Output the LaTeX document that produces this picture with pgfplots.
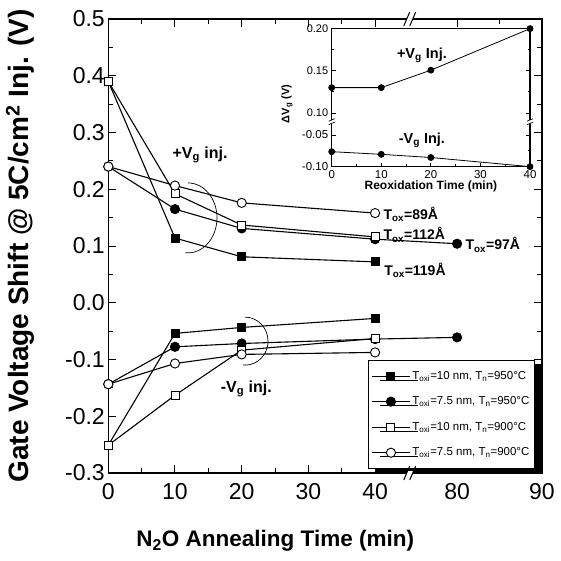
\documentclass[border=0pt]{standalone}
\usepackage{fontspec}
\setmainfont{Liberation Sans}
\usepackage{pgfplots}
\pgfplotsset{compat=1.18}
\usetikzlibrary{shadows}

\newcommand\fs[1]{\fontsize{#1}{#1}\selectfont}

% broken x axis: 0..40 linear, then 80 -> 52.3 and 90 -> 65 on the drawn scale
\pgfplotsset{
  ser/.style={black, line width=1.1pt},
  fsq/.style={ser, mark=square*, mark size=4pt, mark options={fill=black, line width=0.9pt}},
  fci/.style={ser, mark=*, mark size=4.6pt, mark options={fill=black, line width=0.9pt}},
  osq/.style={ser, mark=square*, mark size=4pt, mark options={fill=white, line width=0.9pt}},
  oci/.style={ser, mark=*, mark size=4.6pt, mark options={fill=white, line width=0.9pt}},
}

\begin{document}
\begin{tikzpicture}
\begin{axis}[
  name=main,
  at={(0pt,0pt)}, anchor=south west,
  scale only axis, width=433.5pt, height=454pt,
  xmin=0, xmax=65, ymin=-0.3, ymax=0.5,
  xtick={0,10,20,30,40,52.3,65},
  xticklabels={0,10,20,30,40,80,90},
  minor xtick={5,15,25,35,58.6},
  ytick={-0.3,-0.2,-0.1,0,0.1,0.2,0.3,0.4,0.5},
  yticklabels={-0.3,-0.2,-0.1,0.0,0.1,0.2,0.3,0.4,0.5},
  minor ytick={-0.25,-0.15,-0.05,0.05,0.15,0.25,0.35,0.45},
  tick label style={font=\fs{23}},
  xticklabel style={yshift=-7pt},
  major tick length=8pt, minor tick length=5pt,
  axis line style={line width=1.5pt},
  tick style={line width=1pt, black},
  xlabel={N\textsubscript{2}O Annealing Time (min)},
  xlabel style={font=\fs{22.5}\bfseries, at={(axis description cs:0.385,-0.15)}, anchor=center},
  ylabel={Gate Voltage Shift @ 5C/cm\textsuperscript{2} Inj. (V)},
  ylabel style={font=\fs{28}\bfseries, at={(axis description cs:-0.203,0.5)}, anchor=center},
  clip=false,
  legend cell align=left,
  legend style={at={(0.599,0.249)}, anchor=north west, font=\fs{11.5},
    draw=black, line width=0.8pt, fill=white, row sep=12pt,
    inner xsep=3pt, inner ysep=9pt,
    drop shadow={shadow xshift=8pt, shadow yshift=-4pt, fill=black, opacity=1}},
  legend image code/.code={\draw[mark repeat=2,mark phase=2,#1] plot coordinates {(0pt,0pt) (19pt,0pt) (38pt,0pt)};},
]
% +Vg injection
\addplot[fsq] coordinates {(0,0.39) (10,0.114) (20,0.081) (40,0.072)};
\addlegendentry{T\textsubscript{oxi}=10 nm, T\textsubscript{n}=950°C}
\addplot[fci] coordinates {(0,0.24) (10,0.165) (20,0.131) (40,0.112) (52.3,0.104)};
\addlegendentry{T\textsubscript{oxi}=7.5 nm, T\textsubscript{n}=950°C}
\addplot[osq] coordinates {(0,0.39) (10,0.192) (20,0.137) (40,0.116)};
\addlegendentry{T\textsubscript{oxi}=10 nm, T\textsubscript{n}=900°C}
\addplot[oci] coordinates {(0,0.24) (10,0.2065) (20,0.176) (40,0.158)};
\addlegendentry{T\textsubscript{oxi}=7.5 nm, T\textsubscript{n}=900°C}
% -Vg injection
\addplot[fsq, forget plot] coordinates {(0,-0.251) (10,-0.054) (20,-0.0435) (40,-0.0276)};
\addplot[fci, forget plot] coordinates {(0,-0.1435) (10,-0.0776) (20,-0.0718) (40,-0.064) (52.3,-0.061)};
\addplot[osq, forget plot] coordinates {(0,-0.251) (10,-0.163) (20,-0.0835) (40,-0.063)};
\addplot[oci, forget plot] coordinates {(0,-0.1435) (10,-0.107) (20,-0.091) (40,-0.0875)};

\node[font=\fs{16}\bfseries] at (axis cs:13.75,0.2606) {+V\textsubscript{g} inj.};
\node[font=\fs{16}\bfseries] at (axis cs:20.7,-0.152) {-V\textsubscript{g} inj.};
\draw[line width=0.7pt] ([yshift=35pt]axis cs:11.95,0.1495) arc[start angle=90, end angle=-95, x radius=29pt, y radius=35pt];
\draw[line width=0.7pt] ([yshift=24pt]axis cs:20.5,-0.0676) arc[start angle=90, end angle=-95, x radius=23pt, y radius=24pt];

\node[font=\fs{14}\bfseries, anchor=west, inner sep=1pt] at (axis cs:41.1,0.155) {T\textsubscript{ox}=89Å};
\node[font=\fs{14}\bfseries, anchor=west, inner sep=1pt] at (axis cs:41.1,0.1195) {T\textsubscript{ox}=112Å};
\node[font=\fs{14}\bfseries, anchor=west, inner sep=1pt] at (axis cs:53.4,0.102) {T\textsubscript{ox}=97Å};
\node[font=\fs{14}\bfseries, anchor=west, inner sep=1pt] at (axis cs:41.2,0.0577) {T\textsubscript{ox}=119Å};

\coordinate (bt) at (axis cs:45.2,0.5);
\coordinate (bb) at (axis cs:45.2,-0.3);
\end{axis}

% inset, upper part
\begin{axis}[
  at={(223.4pt,351.3pt)}, anchor=south west,
  scale only axis, width=198.3pt, height=93.4pt,
  xmin=0, xmax=40, ymin=0.0898, ymax=0.2,
  axis x line*=top, xtick=\empty,
  ytick={0.10,0.15,0.20}, yticklabels={0.10,0.15,0.20},
  minor ytick={0.125,0.175},
  tick label style={font=\fs{11}},
  major tick length=4pt, minor tick length=2.5pt,
  axis line style={line width=1.1pt},
  tick style={line width=0.8pt, black},
  axis background/.style={fill=white},
  clip=false,
]
\addplot[black, line width=0.8pt, mark=*, mark size=3pt] coordinates {(0,0.13) (10,0.13) (20,0.1506) (40,0.1996)};
\node[font=\fs{14.5}\bfseries] at (axis cs:18.2,0.168) {+V\textsubscript{g} Inj.};
\coordinate (il) at (rel axis cs:0,0);
\coordinate (ir) at (rel axis cs:1,0);
\end{axis}

% inset, lower part
\begin{axis}[
  at={(223.4pt,306.3pt)}, anchor=south west,
  scale only axis, width=198.3pt, height=45pt,
  xmin=0, xmax=40, ymin=-0.10, ymax=-0.029,
  axis x line*=bottom,
  xtick={0,10,20,30,40}, xticklabels={0,10,20,30,40},
  minor xtick={5,15,25,35},
  ytick={-0.10,-0.05}, yticklabels={-0.10,-0.05},
  minor ytick={-0.075},
  tick label style={font=\fs{11.5}},
  major tick length=4pt, minor tick length=2.5pt,
  axis line style={line width=1.1pt},
  tick style={line width=0.8pt, black},
  axis background/.style={fill=white},
  xlabel={Reoxidation Time (min)},
  xlabel style={font=\fs{12}\bfseries, yshift=4pt},
  clip=false,
]
\addplot[black, line width=0.8pt, mark=*, mark size=3pt] coordinates {(0,-0.0763) (10,-0.0805) (20,-0.0855) (40,-0.0999)};
\node[font=\fs{14.5}\bfseries] at (axis cs:18.2,-0.058) {-V\textsubscript{g} Inj.};
\end{axis}

\node[font=\fs{11}\bfseries, rotate=90] at (178.7pt,369pt) {ΔV\textsubscript{g} (V)};

% break marks
\foreach \c in {bt,bb} {
  \fill[white] ([xshift=-3pt,yshift=-2.5pt]\c) rectangle ([xshift=3pt,yshift=2.5pt]\c);
  \draw[line width=1pt] ([xshift=-6pt,yshift=-7pt]\c) -- ([xshift=0pt,yshift=7pt]\c);
  \draw[line width=1pt] ([xshift=0pt,yshift=-7pt]\c) -- ([xshift=6pt,yshift=7pt]\c);
}
\foreach \c in {il,ir} {
  \fill[white] ([xshift=-1.5pt,yshift=-2pt]\c) rectangle ([xshift=1.5pt,yshift=2pt]\c);
  \draw[line width=0.7pt] ([xshift=-3pt,yshift=-3pt]\c) -- ([xshift=3pt,yshift=-0.5pt]\c);
  \draw[line width=0.7pt] ([xshift=-3pt,yshift=0.5pt]\c) -- ([xshift=3pt,yshift=3pt]\c);
}

\pgfresetboundingbox
\useasboundingbox (-108.3pt,-87pt) rectangle (452.7pt,473pt);
\end{tikzpicture}
\end{document}
